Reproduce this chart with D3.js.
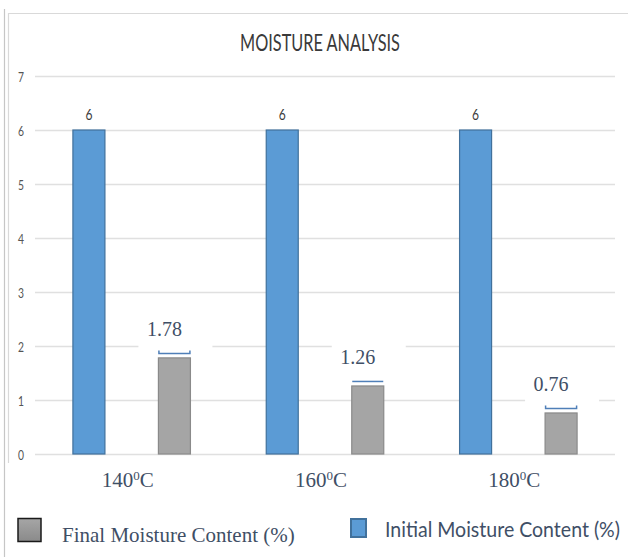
<!DOCTYPE html>
<html>
<head>
<meta charset="utf-8">
<script src="https://cdn.jsdelivr.net/npm/d3@7"></script>
<style>
  html, body { margin: 0; padding: 0; background: #fff; }
  svg { display: block; }
</style>
</head>
<body>
<svg id="chart" width="628" height="557"></svg>
<script>
// Drying temperatures (°C) on the category axis
const temperatures = [140, 160, 180];
// Moisture content (%) before and after drying
const initialMoisture = [6, 6, 6];
const finalMoisture = [1.78, 1.26, 0.76];
// Series names and value-axis ticks
const seriesNames = ["Initial Moisture Content (%)", "Final Moisture Content (%)"];
const yTicks = [0, 1, 2, 3, 4, 5, 6, 7];
const chartTitle = "MOISTURE ANALYSIS";

const rows = temperatures.map((t, i) => ({
  temp: String(t),
  values: [
    { key: seriesNames[0], value: initialMoisture[i] },
    { key: seriesNames[1], value: finalMoisture[i] }
  ]
}));

const svg = d3.select("#chart");
const plot = { left: 35, right: 615, top: 76, bottom: 454 };

const x0 = d3.scaleBand()
  .domain(rows.map(d => d.temp))
  .range([plot.left, plot.right])
  .paddingInner(0).paddingOuter(0);

const x1 = d3.scaleBand()
  .domain(seriesNames)
  .range([0, x0.bandwidth()])
  .paddingInner(0.614).paddingOuter(0.4375);

const y = d3.scaleLinear()
  .domain([0, d3.max(yTicks)])
  .range([plot.bottom, plot.top]);

const fillColor = d3.scaleOrdinal().domain(seriesNames).range(["#5b9bd5", "#a5a5a5"]);
const edgeColor = d3.scaleOrdinal().domain(seriesNames).range(["#41719c", "#8a8a8a"]);

const sansFont = "Lato, 'Open Sans', sans-serif";
const serifFont = "'Liberation Serif', 'Times New Roman', serif";
const labelInk = "#3f4f66";

// Narrow sans text: font-size picked so the run has the wanted width,
// then stretched vertically so capitals reach the wanted height.
function narrowText(sel, str, x, yBase, capHeight, width, anchor, color) {
  const g = sel.append("g");
  const t = g.append("text")
    .attr("text-anchor", anchor)
    .attr("font-family", sansFont)
    .attr("fill", color)
    .text(str);
  const s0 = capHeight / 0.72;
  t.attr("font-size", s0);
  const w = t.node().getComputedTextLength() || width;
  const fs = s0 * width / w;
  t.attr("font-size", fs);
  g.attr("transform", `translate(${x},${yBase}) scale(1,${s0 / fs})`);
  return g;
}

// Page frame lines
svg.append("line").attr("x1", 4.5).attr("x2", 4.5).attr("y1", 9).attr("y2", 557)
  .attr("stroke", "#c6c6c6").attr("stroke-width", 1.2);
svg.append("line").attr("x1", 8.5).attr("x2", 8.5).attr("y1", 13).attr("y2", 463)
  .attr("stroke", "#d9d9d9").attr("stroke-width", 1.2);
svg.append("line").attr("x1", 8).attr("x2", 628).attr("y1", 13.5).attr("y2", 13.5)
  .attr("stroke", "#d9d9d9").attr("stroke-width", 1.2);

// Title
narrowText(svg, chartTitle, 320, 51, 16.5, 160, "middle", "#3a3a3a");

// Value axis with gridlines
const yAxis = svg.append("g")
  .attr("transform", `translate(${plot.left},0)`)
  .call(d3.axisLeft(y).tickValues(yTicks).tickSize(-(plot.right - plot.left)).tickFormat(d3.format("d")));
yAxis.select(".domain").remove();
yAxis.selectAll(".tick line").attr("stroke", "#e0e0e0").attr("stroke-width", 1.5);
yAxis.selectAll(".tick text").remove();
yAxis.selectAll(".tick").each(function (d) {
  narrowText(d3.select(this), String(d), -14, 5, 10, 6, "middle", "#555");
});

// Text boxes behind the final-moisture labels (they mask the gridlines)
const groups = svg.append("g").selectAll("g")
  .data(rows).join("g")
  .attr("transform", d => `translate(${x0(d.temp)},0)`);

const finalOf = d => d.values[1];
const labelX = d => x1(seriesNames[1]) + x1.bandwidth() / 2 - 10;
const labelBase = d => y(finalOf(d).value) - 22;

groups.append("rect")
  .attr("x", d => labelX(d) - 26)
  .attr("y", d => labelBase(d) - 35)
  .attr("width", 74)
  .attr("height", 53)
  .attr("fill", "#fff");

// Bars
groups.selectAll("rect.bar")
  .data(d => d.values)
  .join("rect")
  .attr("class", "bar")
  .attr("x", d => x1(d.key) + 0.5)
  .attr("y", d => y(d.value))
  .attr("width", x1.bandwidth() - 1)
  .attr("height", d => y(0) - y(d.value))
  .attr("fill", d => fillColor(d.key))
  .attr("stroke", d => edgeColor(d.key))
  .attr("stroke-width", 1.2);

// Initial moisture value labels
groups.append("g").each(function (d) {
  const v = d.values[0];
  narrowText(d3.select(this), d3.format("d")(v.value),
    x1(v.key) + x1.bandwidth() / 2, y(v.value) - 10, 11, 7, "middle", "#3a3a3a");
});

// Bracket marks above the final-moisture bars
groups.append("path")
  .attr("d", (d, i) => {
    const l = x1(seriesNames[1]) + 1, r = l + x1.bandwidth() - 2;
    const yy = y(finalOf(d).value) - 4.5;
    return i === 1
      ? `M${l},${yy}H${r}`
      : `M${l},${yy - 3}V${yy}H${r}V${yy - 3}`;
  })
  .attr("fill", "none")
  .attr("stroke", "#4f7fb8")
  .attr("stroke-width", 1.5);

// Final moisture value labels
groups.append("text")
  .attr("x", labelX)
  .attr("y", labelBase)
  .attr("text-anchor", "middle")
  .attr("font-family", serifFont)
  .attr("font-size", 20)
  .attr("fill", labelInk)
  .text(d => d3.format(".2f")(finalOf(d).value));

// Category labels: temperature with superscript degree mark
const catLabels = svg.append("g").selectAll("text")
  .data(rows).join("text")
  .attr("x", d => x0(d.temp) + x0.bandwidth() / 2 - 4)
  .attr("y", 487)
  .attr("text-anchor", "middle")
  .attr("font-family", serifFont)
  .attr("font-size", 21)
  .attr("fill", labelInk);
catLabels.append("tspan").text(d => d.temp);
catLabels.append("tspan").attr("font-size", 13).attr("dy", -7).text("0");
catLabels.append("tspan").attr("dy", 7).text("C");

// Legend
const grad = svg.append("defs").append("linearGradient")
  .attr("id", "legendGray").attr("x1", 0).attr("y1", 0).attr("x2", 0).attr("y2", 1);
grad.append("stop").attr("offset", "0%").attr("stop-color", "#a6a6a6");
grad.append("stop").attr("offset", "100%").attr("stop-color", "#8a8a8a");

svg.append("rect")
  .attr("x", 18).attr("y", 518.5).attr("width", 23).attr("height", 23)
  .attr("fill", "url(#legendGray)").attr("stroke", "#1a1a1a").attr("stroke-width", 1.5);
svg.append("text")
  .attr("x", 62).attr("y", 542)
  .attr("font-family", serifFont).attr("font-size", 21)
  .attr("fill", labelInk)
  .text(seriesNames[1]);

svg.append("rect")
  .attr("x", 351).attr("y", 519).attr("width", 15).attr("height", 18)
  .attr("fill", fillColor(seriesNames[0])).attr("stroke", edgeColor(seriesNames[0])).attr("stroke-width", 2);
narrowText(svg, seriesNames[0], 385, 537, 15, 235, "start", labelInk);
</script>
</body>
</html>
